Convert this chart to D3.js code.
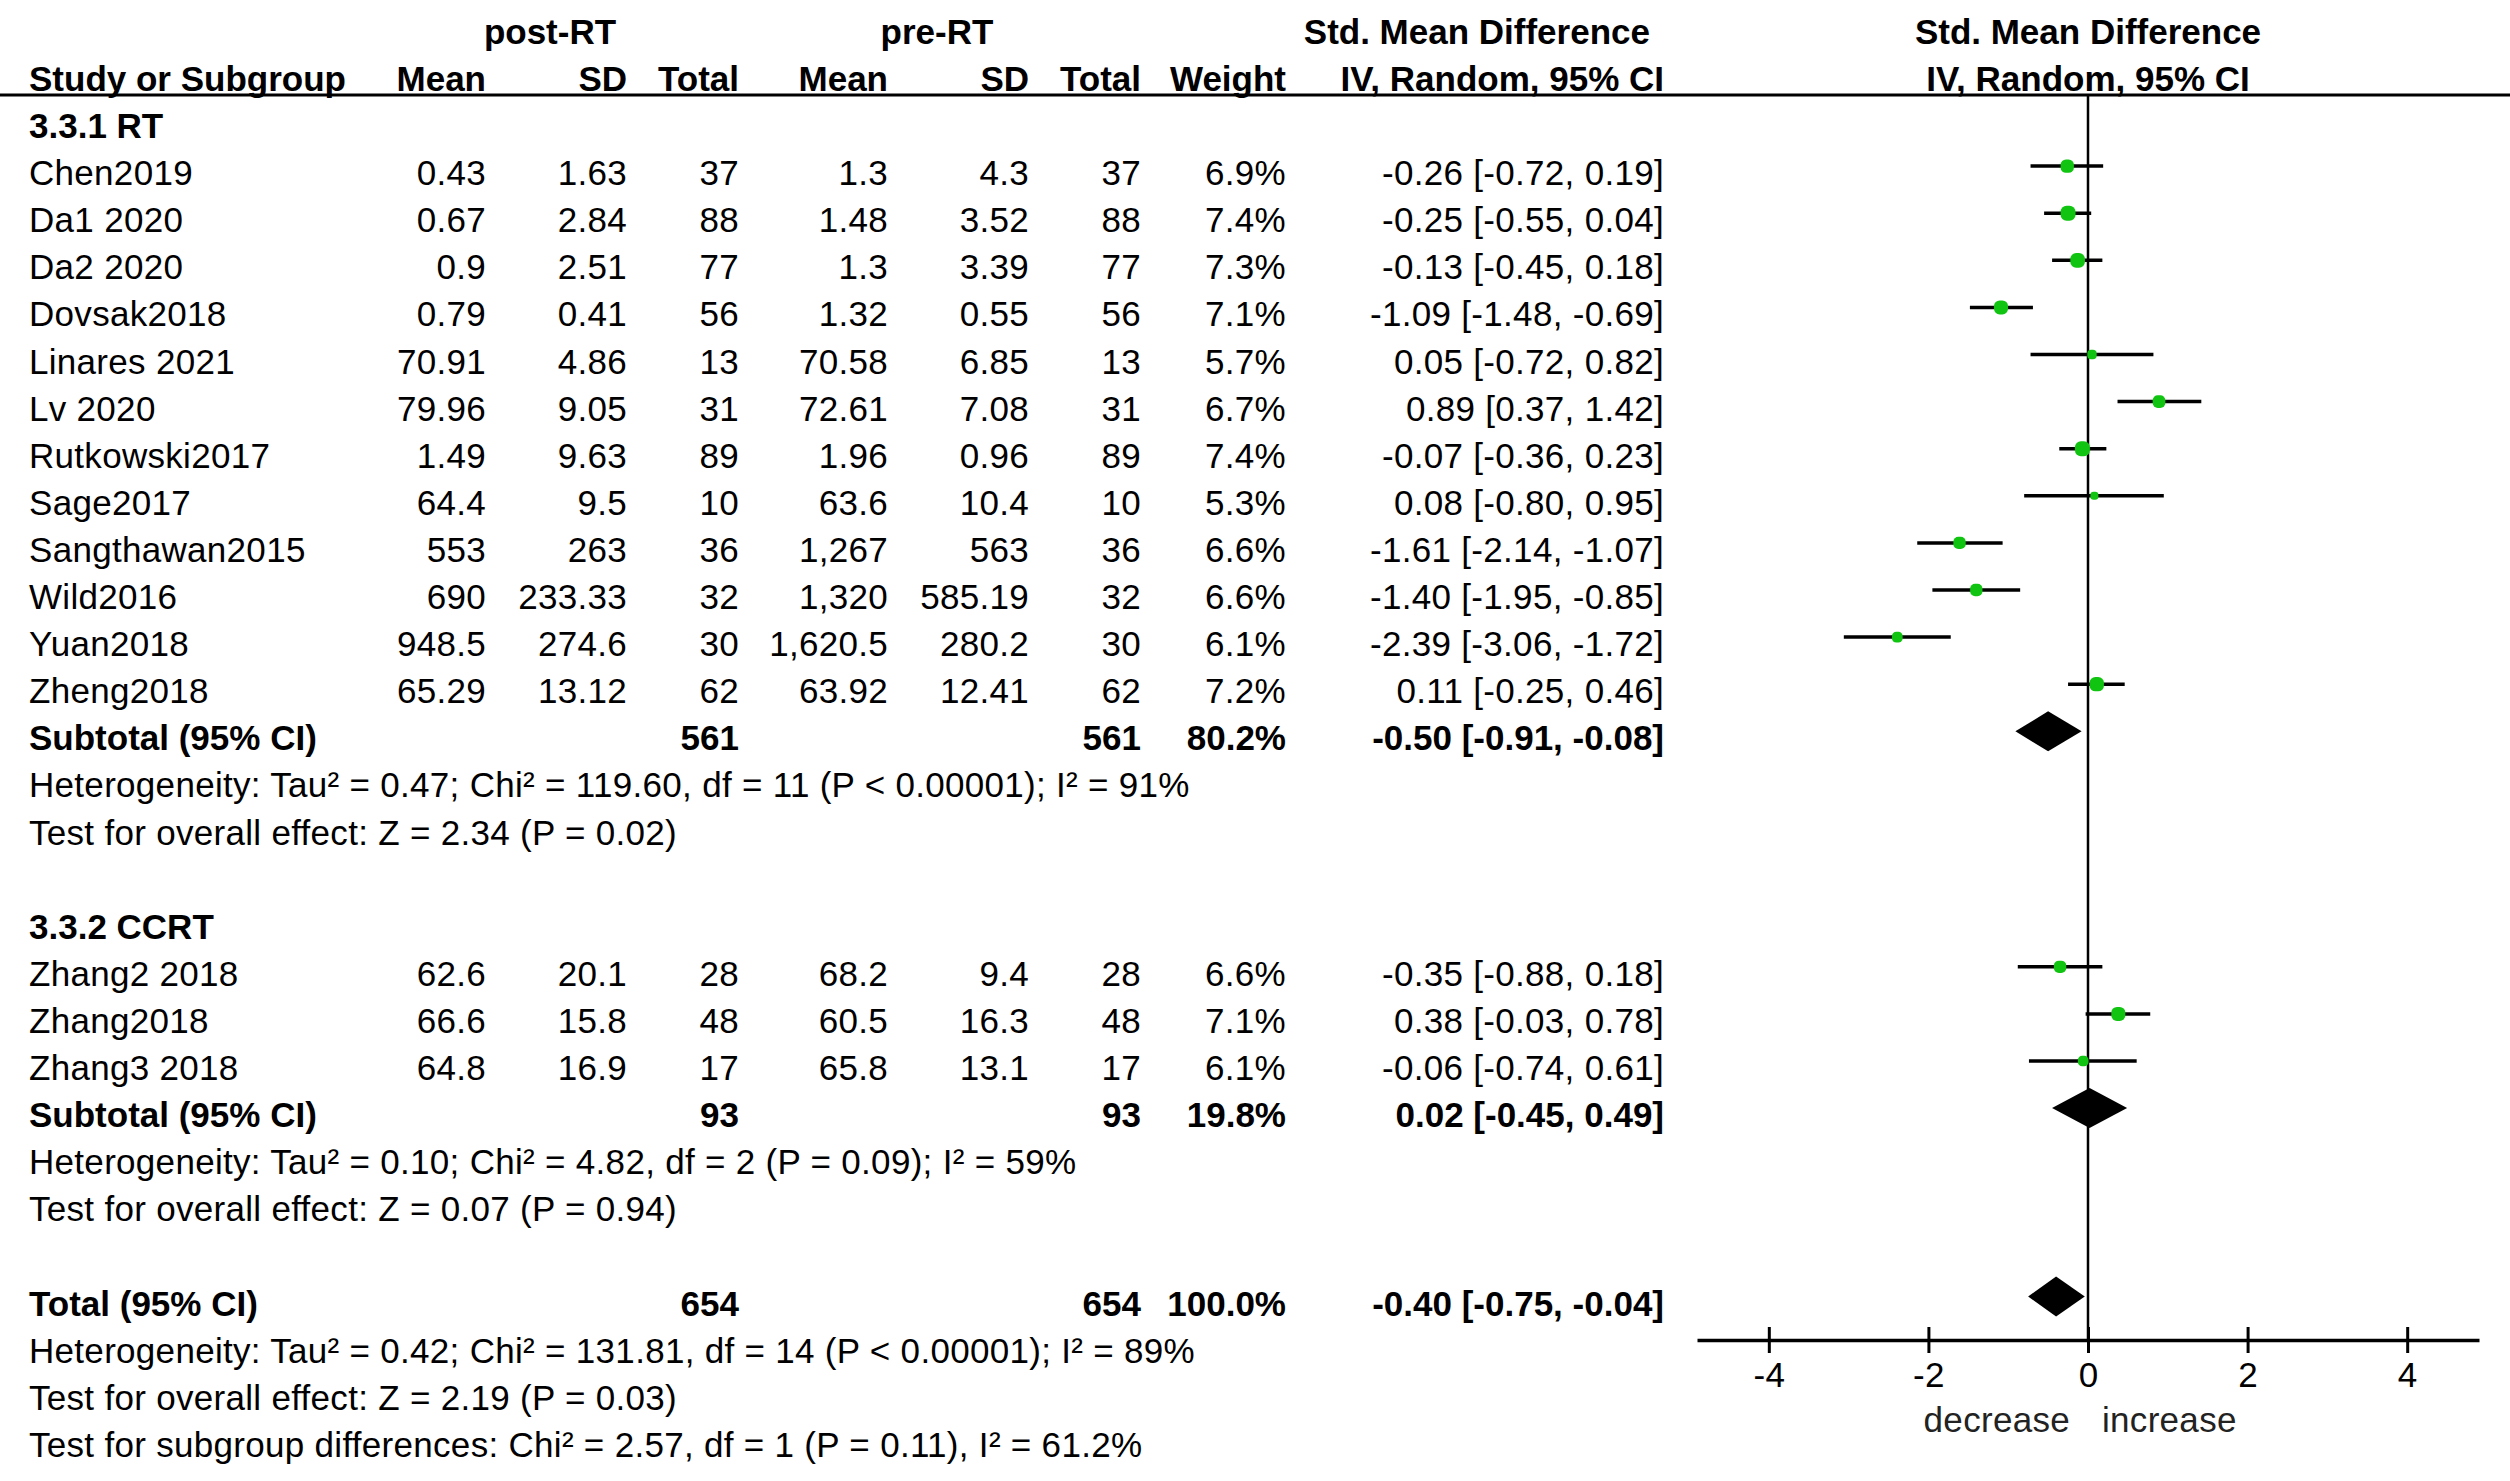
<!DOCTYPE html>
<html>
<head>
<meta charset="utf-8">
<script src="https://cdn.jsdelivr.net/npm/d3@7"></script>
<style>
  body { margin: 0; background: #fff; }
  svg text { font-family: "Liberation Sans", Arial, sans-serif; font-size: 35px; fill: #000; letter-spacing: 0.3px; }
  svg text.b, svg .b text { font-weight: bold; letter-spacing: 0; }
</style>
</head>
<body>
<div id="chart"></div>
<script>
// Study level data
var studies = ["Chen2019", "Da1 2020", "Da2 2020", "Dovsak2018", "Linares 2021", "Lv 2020",
  "Rutkowski2017", "Sage2017", "Sangthawan2015", "Wild2016", "Yuan2018", "Zheng2018",
  "Zhang2 2018", "Zhang2018", "Zhang3 2018"];
var studyGroup = [0, 0, 0, 0, 0, 0, 0, 0, 0, 0, 0, 0, 1, 1, 1];
var postMean = [0.43, 0.67, 0.9, 0.79, 70.91, 79.96, 1.49, 64.4, 553, 690, 948.5, 65.29, 62.6, 66.6, 64.8];
var postSD = [1.63, 2.84, 2.51, 0.41, 4.86, 9.05, 9.63, 9.5, 263, 233.33, 274.6, 13.12, 20.1, 15.8, 16.9];
var postN = [37, 88, 77, 56, 13, 31, 89, 10, 36, 32, 30, 62, 28, 48, 17];
var preMean = [1.3, 1.48, 1.3, 1.32, 70.58, 72.61, 1.96, 63.6, 1267, 1320, 1620.5, 63.92, 68.2, 60.5, 65.8];
var preSD = [4.3, 3.52, 3.39, 0.55, 6.85, 7.08, 0.96, 10.4, 563, 585.19, 280.2, 12.41, 9.4, 16.3, 13.1];
var preN = [37, 88, 77, 56, 13, 31, 89, 10, 36, 32, 30, 62, 28, 48, 17];
var weight = [6.9, 7.4, 7.3, 7.1, 5.7, 6.7, 7.4, 5.3, 6.6, 6.6, 6.1, 7.2, 6.6, 7.1, 6.1];
var smd = [-0.26, -0.25, -0.13, -1.09, 0.05, 0.89, -0.07, 0.08, -1.61, -1.40, -2.39, 0.11, -0.35, 0.38, -0.06];
var ciLow = [-0.72, -0.55, -0.45, -1.48, -0.72, 0.37, -0.36, -0.80, -2.14, -1.95, -3.06, -0.25, -0.88, -0.03, -0.74];
var ciHigh = [0.19, 0.04, 0.18, -0.69, 0.82, 1.42, 0.23, 0.95, -1.07, -0.85, -1.72, 0.46, 0.18, 0.78, 0.61];

// Subgroups and overall pooled results
var groupNames = ["3.3.1 RT", "3.3.2 CCRT"];
var pooledLabel = ["Subtotal (95% CI)", "Subtotal (95% CI)", "Total (95% CI)"];
var pooledPostN = [561, 93, 654];
var pooledPreN = [561, 93, 654];
var pooledWeight = [80.2, 19.8, 100.0];
var pooledSmd = [-0.50, 0.02, -0.40];
var pooledLow = [-0.91, -0.45, -0.75];
var pooledHigh = [-0.08, 0.49, -0.04];
var heterogeneity = [
  "Heterogeneity: Tau\u00b2 = 0.47; Chi\u00b2 = 119.60, df = 11 (P < 0.00001); I\u00b2 = 91%",
  "Heterogeneity: Tau\u00b2 = 0.10; Chi\u00b2 = 4.82, df = 2 (P = 0.09); I\u00b2 = 59%",
  "Heterogeneity: Tau\u00b2 = 0.42; Chi\u00b2 = 131.81, df = 14 (P < 0.00001); I\u00b2 = 89%"
];
var overallEffect = [
  "Test for overall effect: Z = 2.34 (P = 0.02)",
  "Test for overall effect: Z = 0.07 (P = 0.94)",
  "Test for overall effect: Z = 2.19 (P = 0.03)"
];
var subgroupTest = "Test for subgroup differences: Chi\u00b2 = 2.57, df = 1 (P = 0.11), I\u00b2 = 61.2%";

// Axis
var axisTicks = [-4, -2, 0, 2, 4];
var axisLabels = ["decrease", "increase"];

var svgWidth = 2510;
var svgHeight = 1481;

var svg = d3.select("#chart")
  .append("svg")
  .attr("width", svgWidth)
  .attr("height", svgHeight);

// helpers for number text
var num = d => d.toLocaleString("en-US", { maximumFractionDigits: 2 });
var f2 = d => d.toFixed(2);
var ciText = (e, l, h) => f2(e) + " [" + f2(l) + ", " + f2(h) + "]";

// Build the row layout (row index -> content)
var rows = [];
var idx = 0;
var g;
for (g = 0; g < 2; g++) {
  rows.push({ i: idx++, kind: "group", label: groupNames[g] });
  studies.forEach(function (s, k) {
    if (studyGroup[k] === g) rows.push({ i: idx++, kind: "study", k: k });
  });
  rows.push({ i: idx++, kind: "pooled", p: g });
  rows.push({ i: idx++, kind: "note", label: heterogeneity[g] });
  rows.push({ i: idx++, kind: "note", label: overallEffect[g] });
  idx++; // blank line
}
rows.push({ i: idx++, kind: "pooled", p: 2 });
rows.push({ i: idx++, kind: "note", label: heterogeneity[2] });
rows.push({ i: idx++, kind: "note", label: overallEffect[2] });
rows.push({ i: idx++, kind: "note", label: subgroupTest });

// Vertical scale for rows, header rows use negative indexes
var y = d3.scaleLinear().domain([0, 28]).range([119, 119 + 28 * 47.1]);
var baseShift = 19;

// Forest plot x scale
var x = d3.scaleLinear().domain([-4.9, 4.9]).range([1697, 2479]);
var axisY = 1340;

// Column right edges of the table
var colMean1 = 486, colSD1 = 627, colTot1 = 739, colMean2 = 888, colSD2 = 1029,
    colTot2 = 1141, colWeight = 1286, colCI = 1664, colLeft = 29;

// Headers
var head = svg.append("g").attr("class", "b");
head.append("text").attr("x", 550).attr("y", y(-2) + baseShift).attr("text-anchor", "middle").text("post-RT");
head.append("text").attr("x", 937).attr("y", y(-2) + baseShift).attr("text-anchor", "middle").text("pre-RT");
head.append("text").attr("x", 1650).attr("y", y(-2) + baseShift).attr("text-anchor", "end").text("Std. Mean Difference");
head.append("text").attr("x", x(0)).attr("y", y(-2) + baseShift).attr("text-anchor", "middle").text("Std. Mean Difference");

head.append("text").attr("x", colLeft).attr("y", y(-1) + baseShift).text("Study or Subgroup");
[[colMean1, "Mean"], [colSD1, "SD"], [colTot1, "Total"], [colMean2, "Mean"], [colSD2, "SD"],
 [colTot2, "Total"], [colWeight, "Weight"], [colCI, "IV, Random, 95% CI"]].forEach(function (c) {
  head.append("text").attr("x", c[0]).attr("y", y(-1) + baseShift).attr("text-anchor", "end").text(c[1]);
});
head.append("text").attr("x", x(0)).attr("y", y(-1) + baseShift).attr("text-anchor", "middle").text("IV, Random, 95% CI");

// Header rule across the whole width
svg.append("line")
  .attr("x1", 0).attr("x2", svgWidth)
  .attr("y1", 95).attr("y2", 95)
  .attr("stroke", "#000").attr("stroke-width", 3);

// Line of no effect
svg.append("line")
  .attr("x1", x(0)).attr("x2", x(0))
  .attr("y1", 95).attr("y2", axisY)
  .attr("stroke", "#000").attr("stroke-width", 2.5);

var table = svg.append("g");
var plot = svg.append("g");

var markSize = d3.scaleLinear().domain([5.3, 7.4]).range([8, 15]);

rows.forEach(function (r) {
  var ty = y(r.i) + baseShift;
  if (r.kind === "group") {
    table.append("text").attr("class", "b").attr("x", colLeft).attr("y", ty).text(r.label);
  } else if (r.kind === "note") {
    table.append("text").attr("x", colLeft).attr("y", ty).text(r.label);
  } else if (r.kind === "study") {
    var k = r.k;
    table.append("text").attr("x", colLeft).attr("y", ty).text(studies[k]);
    [[colMean1, num(postMean[k])], [colSD1, num(postSD[k])], [colTot1, postN[k]],
     [colMean2, num(preMean[k])], [colSD2, num(preSD[k])], [colTot2, preN[k]],
     [colWeight, weight[k].toFixed(1) + "%"], [colCI, ciText(smd[k], ciLow[k], ciHigh[k])]]
      .forEach(function (c) {
        table.append("text").attr("x", c[0]).attr("y", ty).attr("text-anchor", "end").text(c[1]);
      });
    plot.append("line")
      .attr("x1", x(ciLow[k])).attr("x2", x(ciHigh[k]))
      .attr("y1", y(r.i)).attr("y2", y(r.i))
      .attr("stroke", "#000").attr("stroke-width", 3.5);
    var s = markSize(weight[k]);
    plot.append("rect")
      .attr("x", x(smd[k]) - s / 2).attr("y", y(r.i) - s / 2)
      .attr("width", s).attr("height", s)
      .attr("rx", s / 2.5)
      .attr("fill", "#12c412");
  } else if (r.kind === "pooled") {
    var p = r.p;
    table.append("text").attr("class", "b").attr("x", colLeft).attr("y", ty).text(pooledLabel[p]);
    [[colTot1, pooledPostN[p]], [colTot2, pooledPreN[p]], [colWeight, pooledWeight[p].toFixed(1) + "%"],
     [colCI, ciText(pooledSmd[p], pooledLow[p], pooledHigh[p])]].forEach(function (c) {
      table.append("text").attr("class", "b").attr("x", c[0]).attr("y", ty).attr("text-anchor", "end").text(c[1]);
    });
    var cy = y(r.i);
    plot.append("path")
      .attr("d", "M" + x(pooledLow[p]) + "," + cy +
                 "L" + x(pooledSmd[p]) + "," + (cy - 20) +
                 "L" + x(pooledHigh[p]) + "," + cy +
                 "L" + x(pooledSmd[p]) + "," + (cy + 20) + "Z")
      .attr("fill", "#000");
  }
});

// Bottom axis with ticks crossing the line
var axis = svg.append("g")
  .attr("transform", "translate(0," + axisY + ")")
  .call(d3.axisBottom(x).tickValues(axisTicks).tickFormat(d => String(d)).tickSizeOuter(0).tickPadding(14));
axis.select(".domain").attr("stroke", "#000").attr("stroke-width", 3.5);
axis.selectAll(".tick line").attr("y1", -13).attr("y2", 13).attr("stroke", "#000").attr("stroke-width", 3);
axis.selectAll(".tick text")
  .attr("y", 0).attr("dy", null)
  .attr("transform", "translate(0,47)")
  .style("font-family", "\"Liberation Sans\", Arial, sans-serif")
  .style("font-size", "35px")
  .attr("fill", "#000");

svg.append("text").attr("x", x(0) - 18).attr("y", 1432).attr("text-anchor", "end")
  .style("fill", "#222").text(axisLabels[0]);
svg.append("text").attr("x", x(0) + 14).attr("y", 1432)
  .style("fill", "#222").text(axisLabels[1]);
</script>
</body>
</html>
